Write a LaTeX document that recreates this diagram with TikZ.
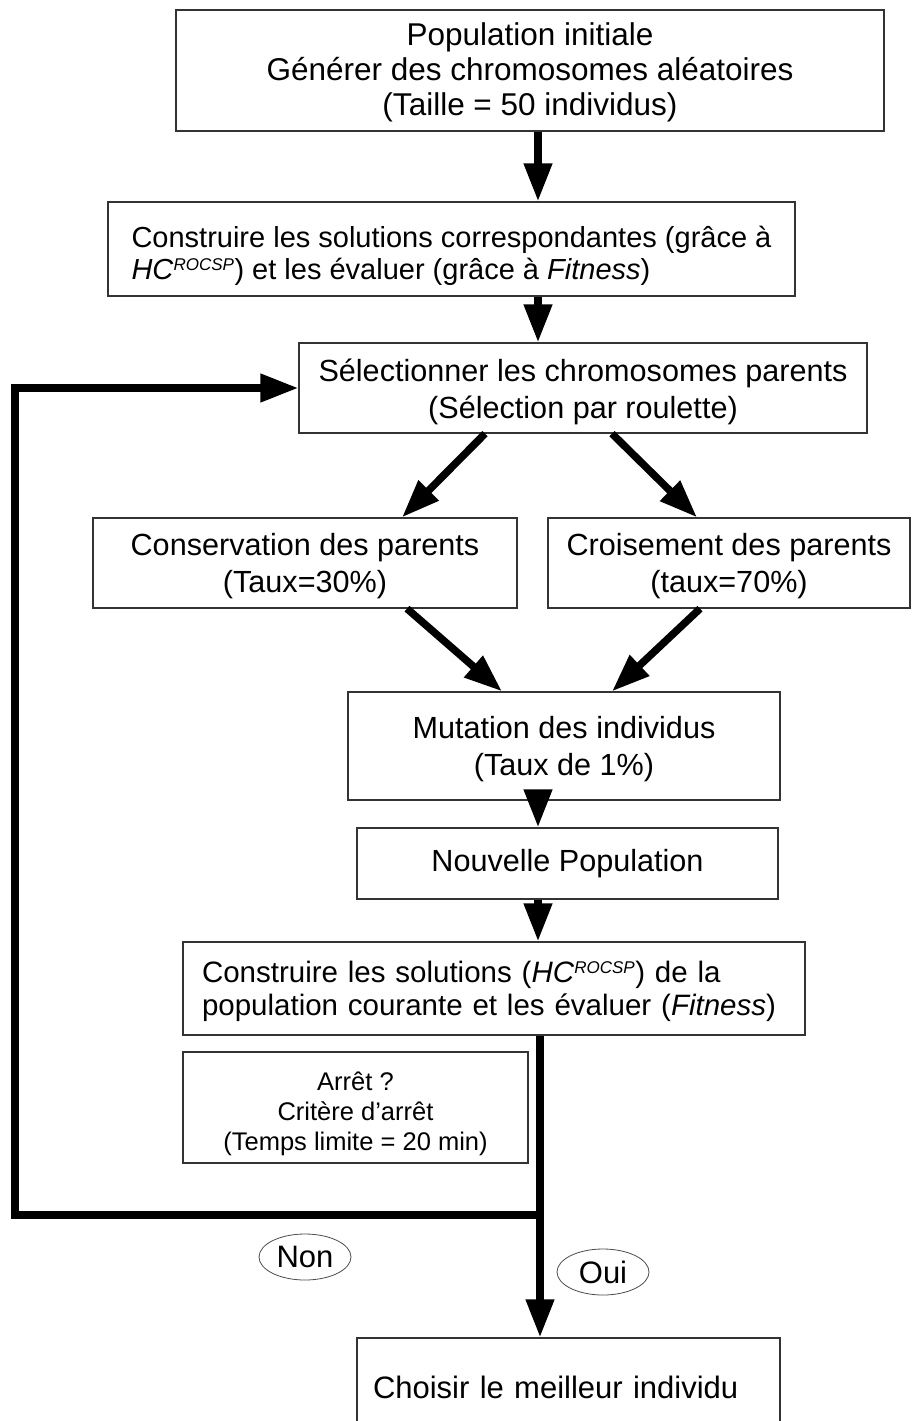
\documentclass[tikz,border=0pt]{standalone}
\usepackage{fontspec}
\setmainfont{Liberation Sans}
\usetikzlibrary{arrows.meta,shapes.geometric}
% small italic exponent used after HC
\newcommand{\rocsp}{\textsuperscript{\fontsize{17}{17}\selectfont\itshape ROCSP}}
% strut that lowers a block of lines slightly inside its box
\newcommand{\lowr}[1]{\rule{0pt}{#1em}}
\begin{document}
\begin{tikzpicture}[x=1pt,y=-1pt,
  box/.style={draw=black!80, line width=1.3pt, fill=white, inner sep=0pt},
  flow/.style={line width=7.5pt, -{Triangle[width=27pt,length=38pt]}},
  loopline/.style={line width=7.5pt},
  big/.style={font=\fontsize{30.6}{37}\selectfont},
  mid/.style={font=\fontsize{29}{32}\selectfont},
  small/.style={font=\fontsize{25.5}{30}\selectfont},
  tag/.style={ellipse, draw=black!70, line width=0.8pt, inner sep=0pt,
    font=\fontsize{31}{34}\selectfont}]
\clip (0,0) rectangle (921,1421);
\useasboundingbox (0,0) rectangle (921,1421);

% process boxes
\node[box, font=\fontsize{31.5}{35}\selectfont, align=center,
  minimum width=708pt, minimum height=121pt]
  (init) at (530,70.5) {\lowr{0.85}Population initiale\\Générer des chromosomes aléatoires\\(Taille = 50 individus)};
\node[box, mid, align=left, minimum width=687pt, minimum height=94pt]
  (build) at (451.5,249) {\lowr{1.2}Construire les solutions correspondantes (grâce à\\
  \textit{HC}\rocsp) et les évaluer (grâce à \textit{Fitness})};
\node[box, big, align=center, minimum width=568pt, minimum height=90pt]
  (select) at (583,388) {\lowr{1.0}Sélectionner les chromosomes parents\\(Sélection par roulette)};
\node[box, big, align=center, minimum width=424pt, minimum height=90pt]
  (keep) at (305,563) {\lowr{0.9}Conservation des parents\\(Taux=30\%)};
\node[box, big, align=center, minimum width=362pt, minimum height=90pt]
  (cross) at (729,563) {\lowr{0.9}Croisement des parents\\(taux=70\%)};
\node[box, big, align=center, minimum width=432pt, minimum height=108pt]
  (mut) at (564,746) {\lowr{0.9}Mutation des individus\\(Taux de 1\%)};
\node[box, big, align=center, minimum width=421pt, minimum height=71pt]
  (newpop) at (567.5,863.5) {Nouvelle Population};
\node[box, font=\fontsize{29.5}{33}\selectfont, align=left, text width=584pt,
  inner xsep=19pt, minimum height=93pt]
  (eval) at (494,988.5) {\lowr{0.9}Construire les solutions (\textit{HC}\rocsp) de la\\
  population courante et les évaluer (\textit{Fitness})};
\node[box, small, align=center, minimum width=345pt, minimum height=111pt]
  (stop) at (355.5,1107.5) {\lowr{1.2}Arrêt ?\\Critère d'arrêt\\(Temps limite = 20 min)};
\node[box, font=\fontsize{31}{36}\selectfont, align=left, text width=391pt,
  inner xsep=16pt, minimum height=98pt]
  (best) at (568.5,1387) {Choisir le meilleur individu};

% decision labels
\node[tag, minimum width=92pt, minimum height=46pt] (non) at (305,1257) {Non};
\node[tag, minimum width=92pt, minimum height=46pt] (oui) at (603,1272) {Oui};

% connectors
\draw[flow] (init.south -| 538,0) -- (build.north -| 538,0);
\draw[flow] (build.south -| 538,0) -- (select.north -| 538,0);
\draw[flow] (select.south -| 485,0) -- (keep.north -| 402,0);
\draw[flow] (select.south -| 612,0) -- (cross.north -| 697,0);
\draw[flow] (keep.south -| 407,0) -- (mut.north -| 502,0);
\draw[flow] (cross.south -| 700,0) -- (mut.north -| 612,0);
\draw[flow] (mut.south -| 538,0) -- (newpop.north -| 538,0);
\draw[flow] (newpop.south -| 538,0) -- (eval.north -| 538,0);
\coordinate (split) at (540,1215);
\coordinate (corner) at (15,1215);
\draw[loopline] (eval.south -| 540,0) -- (split);
\draw[flow] (split) -- (best.north -| 540,0);
\draw[flow] (split) -- (corner) -- (corner |- select.west) -- (select.west);
\end{tikzpicture}
\end{document}
